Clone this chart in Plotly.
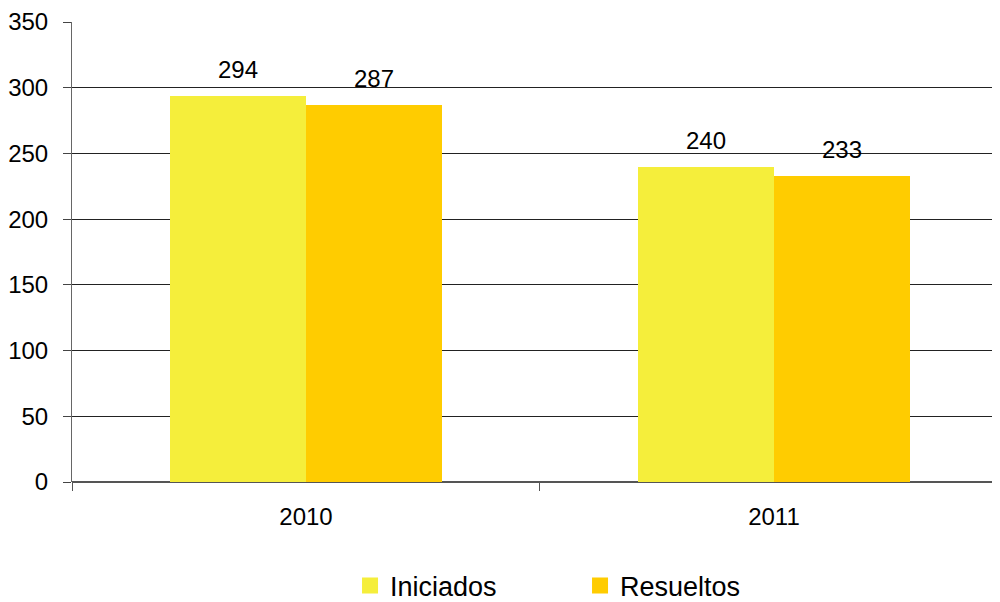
import plotly.graph_objects as go

# chart data
years = ["2010", "2011"]
iniciados = [294, 240]
resueltos = [287, 233]

col_ini = "#F5EE3B"
col_res = "#FFCC00"
font = "Liberation Sans, Arial, sans-serif"

xpos = list(range(len(years)))
bw = 0.29

fig = go.Figure()
fig.add_trace(go.Bar(x=xpos, y=iniciados, width=bw, offset=-bw, marker=dict(color=col_ini, line=dict(width=0)),
                     name="Iniciados", showlegend=False))
fig.add_trace(go.Bar(x=xpos, y=resueltos, width=bw, offset=0, marker=dict(color=col_res, line=dict(width=0)),
                     name="Resueltos", showlegend=False))

# legend entries with larger square swatches
fig.add_trace(go.Scatter(x=[None], y=[None], mode="markers", name="Iniciados",
                         marker=dict(symbol="square", size=20, color=col_ini)))
fig.add_trace(go.Scatter(x=[None], y=[None], mode="markers", name="Resueltos",
                         marker=dict(symbol="square", size=20, color=col_res)))

# value labels above bars
for i, v in enumerate(iniciados):
    fig.add_annotation(x=xpos[i] - bw / 2, y=v, text=str(v), showarrow=False, yanchor="bottom",
                       yshift=11, font=dict(size=24, color="black", family=font))
for i, v in enumerate(resueltos):
    fig.add_annotation(x=xpos[i] + bw / 2, y=v, text=str(v), showarrow=False, yanchor="bottom",
                       yshift=11, font=dict(size=24, color="black", family=font))

fig.update_xaxes(range=[-0.5, 1.483], tickvals=xpos, ticktext=years, ticks="", showgrid=False,
                 showline=False, zeroline=False, ticklabelstandoff=18, automargin=False,
                 tickfont=dict(size=24, color="black", family=font),
                 minor=dict(tickvals=[-0.5, 0.5, 1.5], ticks="outside", ticklen=8, tickcolor="#555", tickwidth=1))
fig.update_yaxes(range=[0, 350], dtick=50, showgrid=True, gridcolor="#222", gridwidth=1,
                 showline=True, linecolor="#666", linewidth=1, ticks="outside", ticklen=8, tickcolor="#444",
                 zeroline=True, zerolinecolor="#555", zerolinewidth=2, ticklabelstandoff=10, automargin=False,
                 tickfont=dict(size=24, color="black", family=font))

# page body has an 8px margin, so the figure is sized to fit inside the window
fig.update_layout(
    width=992, height=594,
    margin=dict(l=64, r=0, t=14, b=120, autoexpand=False),
    plot_bgcolor="white", paper_bgcolor="white",
    bargap=0,
    font=dict(family=font, color="black"),
    legend=dict(orientation="h", x=0.2996, xanchor="left", y=-0.226, yanchor="middle",
                font=dict(size=27, color="black", family=font), entrywidth=185),
)

fig.write_html("out.html")
